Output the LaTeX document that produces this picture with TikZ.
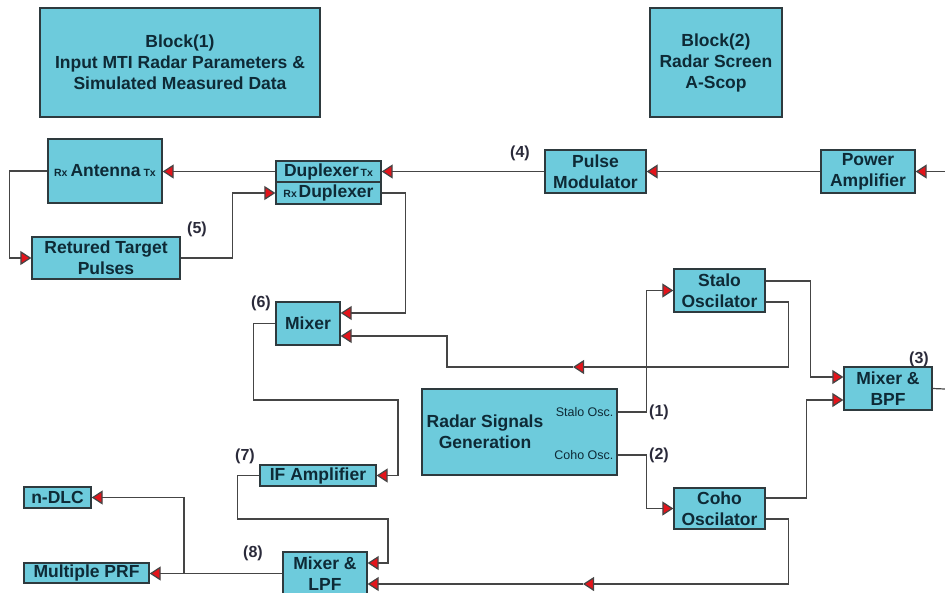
\documentclass[tikz,border=0pt]{standalone}
\usepackage{fontspec}
\setmainfont{Liberation Sans}
\usetikzlibrary{arrows.meta, calc}
\definecolor{boxfill}{HTML}{6DCBDC}
\definecolor{boxline}{HTML}{2E3A3E}
\definecolor{txtcol}{HTML}{0E2A36}
\definecolor{tipred}{HTML}{E3141B}
\definecolor{wire}{HTML}{454545}
\definecolor{numcol}{HTML}{2A2A3A}
\newcommand\porttag[1]{{\fontsize{10.5}{11}\selectfont #1}}

\begin{document}
\begin{tikzpicture}[x=1pt, y=-1pt,
      blk/.style={draw=boxline, fill=boxfill, line width=1.3pt, inner sep=0pt,
                  text=txtcol, font=\fontsize{17.5}{21}\selectfont\bfseries, align=center},
      wirearr/.style={-{Triangle[length=11pt, width=14pt, fill=tipred]}, wire, line width=1.2pt},
      wireln/.style={wire, line width=1.2pt},
      num/.style={font=\fontsize{16}{18}\selectfont\bfseries, text=numcol, inner sep=0pt},
      port/.style={font=\fontsize{12.5}{14}\selectfont, text=txtcol, inner sep=0pt}]
    \useasboundingbox (0,0) rectangle (945,592);
    % blocks
    \node[blk, minimum width=280pt, minimum height=109pt] (blockone) at (180,62.5) {Block(1)\\Input MTI Radar Parameters \&\\Simulated Measured Data};
    \node[blk, minimum width=132pt, minimum height=109pt] (blocktwo) at (716,62.5) {Block(2)\\Radar Screen\\A-Scop};
    \node[blk, minimum width=114pt, minimum height=64pt] (antenna) at (105,171) {\porttag{Rx}\hspace{3pt}Antenna\hspace{3pt}\porttag{Tx}};
    \node[blk, minimum width=105pt, minimum height=21pt] (duptx) at (328.5,171.5) {Duplexer\porttag{\,Tx}};
    \node[blk, minimum width=105pt, minimum height=22pt] (duprx) at (328.5,193) {\porttag{Rx\,}Duplexer};
    \node[blk, minimum width=101pt, minimum height=43pt] (pulsemod) at (595.5,171.5) {Pulse\\Modulator};
    \node[blk, minimum width=94pt, minimum height=43pt] (poweramp) at (868,171.5) {Power\\Amplifier};
    \node[blk, minimum width=148pt, minimum height=42pt] (targets) at (106,258) {Retured Target\\Pulses};
    \node[blk, minimum width=64pt, minimum height=43pt] (mixer) at (308,323.5) {Mixer};
    \node[blk, minimum width=91pt, minimum height=43pt] (stalo) at (719.5,290.5) {Stalo\\Oscilator};
    \node[blk, minimum width=88pt, minimum height=43pt] (mixbpf) at (888,388.5) {Mixer \&\\BPF};
    \node[blk, minimum width=195pt, minimum height=86pt] (signals) at (519.5,432) {};
    \node[blk, draw=none, fill=none] (signalstxt) at (485,432) {Radar Signals\\Generation};
    \node[port, anchor=east] (staloport) at ($(signals.east)+(-4,-20)$) {Stalo Osc.};
    \node[port, anchor=east] (cohoport) at ($(signals.east)+(-4,23)$) {Coho Osc.};
    \node[blk, minimum width=91pt, minimum height=41pt] (coho) at (719.5,508.5) {Coho\\Oscilator};
    \node[blk, minimum width=116pt, minimum height=21pt] (ifamp) at (318,475.5) {IF Amplifier};
    \node[blk, minimum width=84pt, minimum height=43pt] (mixlpf) at (325,573.5) {Mixer \&\\LPF};
    \node[blk, minimum width=67pt, minimum height=21pt] (ndlc) at (57.5,497.5) {n-DLC};
    \node[blk, minimum width=125pt, minimum height=20pt] (mprf) at (86.5,573) {Multiple PRF};
    % step numbers
    \node[num] (numone) at (659,412) {(1)};
    \node[num] (numtwo) at (659,455) {(2)};
    \node[num] (numthree) at (919,359) {(3)};
    \node[num] (numfour) at (520,153) {(4)};
    \node[num] (numfive) at (197,229) {(5)};
    \node[num] (numsix) at (261,303) {(6)};
    \node[num] (numseven) at (245,456) {(7)};
    \node[num] (numeight) at (253,553) {(8)};
    % free ends and mid arrows
    \coordinate (paIn) at (945,171.5);
    \coordinate (bpfOut) at (945,389);
    \coordinate (staloMid) at (573,367);
    \coordinate (cohoMid) at (583,584);
    \coordinate (prfSplit) at (184,573.5);
    % transmit chain
    \draw[wirearr] (paIn) -- (poweramp.east);
    \draw[wirearr] (poweramp.west) -- (pulsemod.east);
    \draw[wirearr] (pulsemod.west) -- (duptx.east);
    \draw[wirearr] (duptx.west) -- (duptx.west -| antenna.east);
    % receive chain
    \draw[wirearr] (antenna.west) -- ++(-38,0) |- (targets.west);
    \draw[wirearr] (targets.east) -- ++(52,0) |- (duprx.west);
    \draw[wirearr] (duprx.east) -- ++(24,0) |- ($(mixer.east)+(0,-10.5)$);
    \draw[wirearr] ($(stalo.east)+(0,11.5)$) -- ++(23,0) |- (staloMid);
    \draw[wirearr] (staloMid) -- (447,367) |- ($(mixer.east)+(0,12.5)$);
    \draw[wirearr] (mixer.west) -- ++(-22,0) |- (398,400) |- (ifamp.east);
    \draw[wirearr] (ifamp.west) -- ++(-22,0) |- (388,519) |- ($(mixlpf.east)+(0,-10.5)$);
    \draw[wirearr] (mixlpf.west) -- (mixlpf.west -| mprf.east);
    \draw[wirearr] (prfSplit) |- (ndlc.east);
    % oscillators
    \draw[wirearr] (signals.east |- staloport) -- ++(29,0) |- (stalo.west);
    \draw[wirearr] (signals.east |- cohoport) -- ++(29,0) |- (coho.west);
    \draw[wirearr] ($(stalo.east)+(0,-9.5)$) -- ++(45,0) |- ($(mixbpf.west)+(0,-11.5)$);
    \draw[wirearr] ($(coho.east)+(0,-10.5)$) -- ++(41,0) |- ($(mixbpf.west)+(0,11.5)$);
    \draw[wireln] (mixbpf.east) -- (bpfOut);
    \draw[wirearr] ($(coho.east)+(0,10.5)$) -- ++(23,0) |- (cohoMid);
    \draw[wirearr] (cohoMid) -- ($(mixlpf.east)+(0,10.5)$);
  \end{tikzpicture}
\end{document}
